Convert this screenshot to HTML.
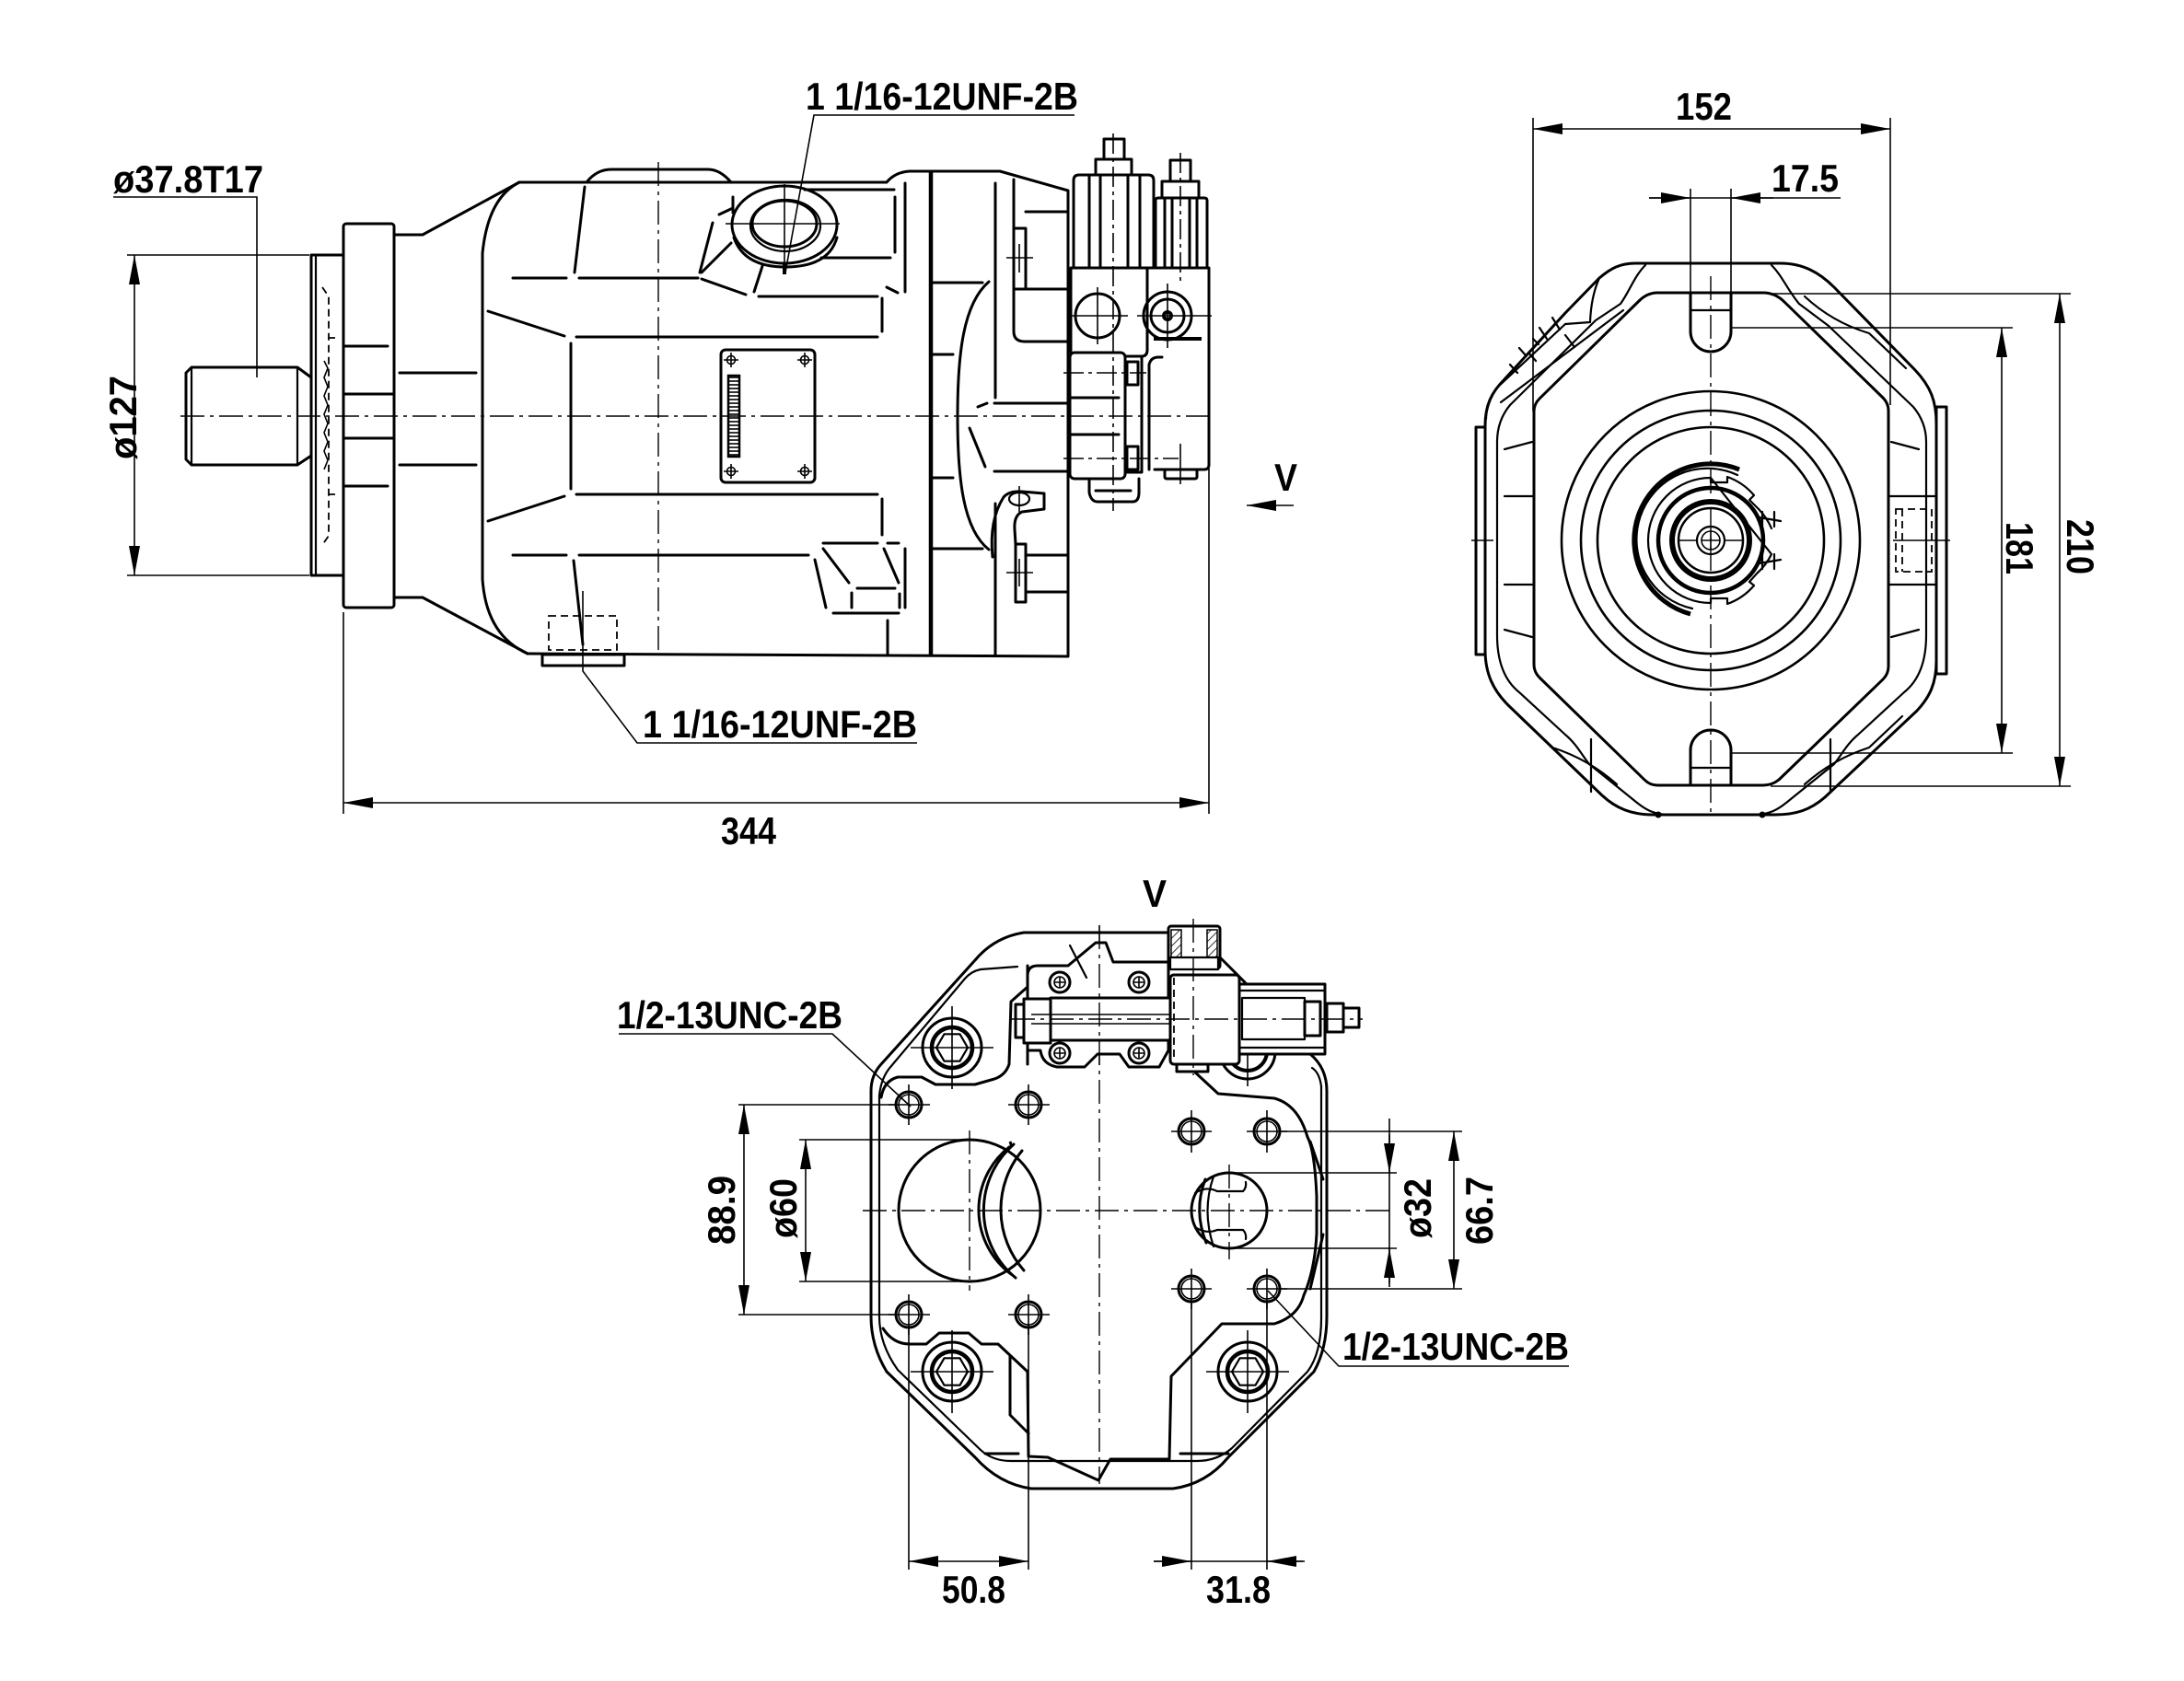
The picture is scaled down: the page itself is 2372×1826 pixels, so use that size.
<!DOCTYPE html>
<html><head><meta charset="utf-8"><style>
html,body{margin:0;padding:0;background:#fff}
svg{display:block}
.o{fill:none;stroke:#000;stroke-width:3;stroke-linejoin:round;stroke-linecap:round}
.m{fill:none;stroke:#000;stroke-width:2.2;stroke-linecap:round;stroke-linejoin:round}
.f{fill:none;stroke:#000;stroke-width:1.6}
.c{fill:none;stroke:#000;stroke-width:1.4;stroke-dasharray:26 6 4 6}
.h{fill:none;stroke:#000;stroke-width:1.8;stroke-dasharray:8 5}
.w{fill:#fff}
.k5{fill:none;stroke:#000;stroke-width:5}
text{font-family:"Liberation Sans",Arial,sans-serif;font-weight:700;font-size:42px;fill:#000}
</style></head><body>
<svg xmlns="http://www.w3.org/2000/svg" width="2372" height="1826" viewBox="0 0 2372 1826">
<defs>
<marker id="ar" viewBox="0 0 32 12" refX="32" refY="6" markerWidth="32" markerHeight="12" orient="auto-start-reverse" markerUnits="userSpaceOnUse"><path d="M0,0 L32,6 L0,12 Z" fill="#000"/></marker>
<pattern id="hs" width="8" height="4" patternUnits="userSpaceOnUse"><line x1="0" y1="2" x2="8" y2="2" stroke="#000" stroke-width="1.6"/></pattern>
<pattern id="hatch" width="6" height="6" patternUnits="userSpaceOnUse" patternTransform="rotate(45)"><line x1="0" y1="0" x2="0" y2="6" stroke="#000" stroke-width="1.6"/></pattern>
</defs>
<rect width="2372" height="1826" fill="#fff"/>

<!-- ================= SIDE VIEW ================= -->
<line class="c" x1="196" y1="452" x2="1320" y2="452"/>
<line class="c" x1="715" y1="176" x2="715" y2="712"/>

<!-- shaft -->
<path class="o" d="M208,399 L323,399 L338,410 L338,495 L323,505 L208,505 L202,499 L202,405 Z"/>
<line class="m" x1="208" y1="400" x2="208" y2="504"/>
<line class="m" x1="323" y1="400" x2="323" y2="504"/>
<!-- thin flange -->
<rect class="o" x="338" y="277" width="35" height="348"/>
<line class="m" x1="343" y1="279" x2="343" y2="623"/>
<path class="h" d="M350,312 L357,322 L357,582 L350,592"/>
<path class="h" d="M357,367 L364,367 M357,537 L364,537"/>
<path class="f" d="M352,392 L356,400 L352,410 L356,420 L352,430 L356,440 L352,450 L356,460 L352,470 L356,480 L352,490 L356,500 L352,510"/>
<!-- big flange -->
<rect class="o" x="373" y="243" width="55" height="417" rx="3"/>
<line class="o" x1="375" y1="376" x2="421" y2="376"/>
<line class="o" x1="375" y1="528" x2="421" y2="528"/>
<line class="o" x1="373" y1="428" x2="428" y2="428"/>
<line class="o" x1="373" y1="476" x2="428" y2="476"/>
<!-- neck -->
<path class="o" d="M428,255 L459,255 L564,198"/>
<path class="o" d="M428,649 L459,649 L573,710"/>
<line class="o" x1="434" y1="405" x2="517" y2="405"/>
<line class="o" x1="434" y1="505" x2="517" y2="505"/>
<!-- body -->
<path class="o" d="M564,198 Q530,215 524,275 L524,629 Q528,690 573,710"/>
<path class="o" d="M564,198 L963,198 Q972,187 988,186 L1086,186 L1160,207 L1160,713 L573,710"/>
<path class="o" d="M637,198 Q648,184 664,184 L769,184 Q782,184 794,198"/>
<line x1="1011" y1="186" x2="1011" y2="712" stroke="#000" stroke-width="4.5"/>
<!-- body interior -->
<g class="o">
<line x1="635" y1="203" x2="624" y2="296"/>
<line x1="557" y1="302" x2="615" y2="302"/><line x1="629" y1="302" x2="758" y2="302"/>
<line x1="626" y1="366" x2="953" y2="366"/>
<line x1="530" y1="338" x2="613" y2="365"/>
<line x1="620" y1="373" x2="620" y2="531"/>
<line x1="626" y1="537" x2="953" y2="537"/>
<line x1="530" y1="566" x2="613" y2="539"/>
<line x1="557" y1="603" x2="615" y2="603"/><line x1="629" y1="603" x2="878" y2="603"/>
<line x1="623" y1="609" x2="633" y2="700"/>
<line x1="774" y1="242" x2="760" y2="296"/>
<line x1="794" y1="264" x2="762" y2="296"/>
<line x1="762" y1="303" x2="810" y2="320"/>
<line x1="828" y1="289" x2="819" y2="317"/>
<line x1="824" y1="322" x2="953" y2="322"/>
<line x1="781" y1="233" x2="796" y2="226"/>
<line x1="796" y1="214" x2="796" y2="231"/>
<line x1="874" y1="206" x2="971" y2="206"/>
<line x1="892" y1="280" x2="967" y2="280"/>
<line x1="972" y1="214" x2="972" y2="274"/>
<line x1="983" y1="199" x2="983" y2="317"/>
<line x1="963" y1="312" x2="975" y2="318"/>
<line x1="958" y1="324" x2="958" y2="360"/>
<line x1="958" y1="542" x2="958" y2="581"/>
<line x1="894" y1="590" x2="953" y2="590"/><line x1="964" y1="590" x2="976" y2="590"/>
<line x1="894" y1="596" x2="922" y2="633"/>
<line x1="885" y1="608" x2="897" y2="660"/>
<line x1="960" y1="596" x2="976" y2="633"/>
<line x1="931" y1="639" x2="972" y2="639"/>
<line x1="905" y1="666" x2="976" y2="666"/>
<line x1="925" y1="644" x2="925" y2="660"/>
<line x1="977" y1="645" x2="977" y2="660"/>
<line x1="983" y1="596" x2="983" y2="660"/>
<line x1="964" y1="674" x2="964" y2="710"/>
</g>
<!-- top port -->
<ellipse class="o" cx="852" cy="244" rx="57" ry="42"/>
<path class="o" d="M797,258 Q808,290 853,290 Q900,290 909,258"/>
<ellipse class="o" cx="852" cy="243" rx="35" ry="25"/>
<ellipse class="m" cx="853" cy="245" rx="38" ry="28"/>
<line class="f" x1="788" y1="243" x2="912" y2="243"/>
<line class="f" x1="852" y1="200" x2="852" y2="296"/>
<line x1="852" y1="285" x2="852" y2="298" stroke="#000" stroke-width="4"/>
<!-- nameplate -->
<rect class="o" x="783" y="380" width="102" height="144" rx="5"/>
<rect x="791" y="408" width="12" height="88" fill="url(#hs)" stroke="#000" stroke-width="2.5"/>
<g class="f">
<circle cx="794" cy="391" r="4.5"/><circle cx="874" cy="391" r="4.5"/><circle cx="794" cy="512" r="4.5"/><circle cx="874" cy="512" r="4.5"/>
<path d="M786,391 H802 M794,383 V399 M866,391 H882 M874,383 V399 M786,512 H802 M794,504 V520 M866,512 H882 M874,504 V520"/>
</g>
<!-- bottom port -->
<rect class="o" x="589" y="711" width="89" height="12"/>
<rect class="h" x="596" y="669" width="74" height="37"/>
<!-- end section -->
<path class="o" d="M1074,306 C1046,330 1040,385 1040,452 C1040,520 1046,575 1074,597"/>
<g class="o">
<line x1="1011" y1="307" x2="1067" y2="307"/>
<line x1="1011" y1="385" x2="1035" y2="385"/>
<line x1="1011" y1="519" x2="1035" y2="519"/>
<line x1="1011" y1="596" x2="1067" y2="596"/>
<line x1="1081" y1="199" x2="1081" y2="432"/>
<line x1="1081" y1="547" x2="1081" y2="712"/>
<path d="M1101,195 L1101,360 Q1101,371 1113,371 L1160,371"/>
<rect x="1101" y="248" width="13" height="66"/>
<line x1="1114" y1="230" x2="1160" y2="230"/>
<line x1="1114" y1="314" x2="1160" y2="314"/>
<line x1="1080" y1="438" x2="1160" y2="438"/>
<line x1="1080" y1="512" x2="1160" y2="512"/>
<line x1="1062" y1="442" x2="1072" y2="438"/>
<line x1="1053" y1="465" x2="1070" y2="507"/>
<path d="M1078,605 Q1074,565 1090,540 Q1096,533 1110,534 L1134,536 L1134,553 L1110,556 Q1101,560 1102,575 L1103,591"/>
<rect x="1103" y="591" width="11" height="63"/>
<line x1="1114" y1="603" x2="1160" y2="603"/>
<line x1="1114" y1="643" x2="1160" y2="643"/>
</g>
<ellipse class="m" cx="1107" cy="542" rx="11" ry="7"/>
<path class="f" d="M1093,280 H1122 M1107,265 V296 M1093,622 H1122 M1107,607 V637 M1107,528 V556"/>
<!-- valve block -->
<g class="o">
<path d="M1166,291 L1166,196 Q1166,190 1172,190 L1247,190 Q1253,190 1253,196 L1253,291"/>
<line x1="1183" y1="190" x2="1183" y2="290"/><line x1="1195" y1="190" x2="1195" y2="290"/>
<line x1="1225" y1="190" x2="1225" y2="290"/><line x1="1238" y1="190" x2="1238" y2="290"/>
<rect x="1190" y="173" width="39" height="17"/>
<rect x="1199" y="151" width="22" height="22"/>
<path d="M1255,291 L1255,218 Q1255,215 1258,215 L1308,215 Q1311,215 1311,218 L1311,291"/>
<line x1="1265" y1="215" x2="1265" y2="290"/><line x1="1273" y1="215" x2="1273" y2="290"/>
<line x1="1292" y1="215" x2="1292" y2="290"/><line x1="1300" y1="215" x2="1300" y2="290"/>
<rect x="1262" y="197" width="40" height="18"/>
<rect x="1271" y="174" width="22" height="23"/>
<path d="M1163,383 L1163,291 L1313,291 L1313,505 Q1313,510 1308,510 L1254,510"/>
<path d="M1246,291 L1246,380 Q1246,387 1240,387"/>
<rect x="1162" y="383" width="60" height="137" rx="5"/>
<rect x="1222" y="387" width="18" height="126"/>
<rect x="1224" y="393" width="12" height="25"/>
<rect x="1224" y="485" width="12" height="25"/>
<path d="M1248,510 L1248,396 Q1250,388 1258,388 L1262,388"/>
<rect x="1265" y="510" width="35" height="10" rx="2"/>
<path d="M1183,520 L1183,535 Q1185,545 1192,545 L1230,545 Q1237,545 1237,535 L1237,520"/>
<line x1="1190" y1="533" x2="1228" y2="533"/>
<line x1="1163" y1="432" x2="1215" y2="432"/>
<line x1="1163" y1="472" x2="1215" y2="472"/>
<circle cx="1192" cy="343" r="24"/>
<circle cx="1268" cy="343" r="26"/>
<circle cx="1268" cy="343" r="18"/>
</g>
<line x1="1253" y1="368" x2="1305" y2="368" stroke="#000" stroke-width="4"/>
<circle cx="1268" cy="343" r="6" fill="#000"/>
<circle cx="1268" cy="343" r="2" fill="#fff"/>
<g class="f">
<line x1="1209" y1="145" x2="1209" y2="555" stroke-dasharray="22 5 4 5"/>
<line x1="1282" y1="166" x2="1282" y2="310" stroke-dasharray="22 5 4 5"/>
<line x1="1282" y1="482" x2="1282" y2="526"/>
<path d="M1160,343 H1225 M1192,312 V374 M1235,343 H1316 M1268,308 V378"/>
<line x1="1155" y1="405" x2="1245" y2="405" stroke-dasharray="22 5 4 5"/>
<line x1="1155" y1="498" x2="1280" y2="498" stroke-dasharray="22 5 4 5"/>
</g>

<!-- side view dims -->
<g class="f">
<line x1="138" y1="277" x2="336" y2="277"/>
<line x1="138" y1="625" x2="336" y2="625"/>
<line x1="146" y1="277" x2="146" y2="625" marker-start="url(#ar)" marker-end="url(#ar)"/>
<path d="M123,214 L279,214 L279,410"/>
<path d="M1167,125 L884,125 L853,296"/>
<path d="M996,807 L692,807 L633,729 L633,642"/>
<line x1="373" y1="665" x2="373" y2="884"/>
<line x1="1313" y1="509" x2="1313" y2="884"/>
<line x1="373" y1="872" x2="1313" y2="872" marker-start="url(#ar)" marker-end="url(#ar)"/>
<line x1="1405" y1="549" x2="1354" y2="549" marker-end="url(#ar)"/>
</g>
<text x="123" y="209" textLength="163" lengthAdjust="spacingAndGlyphs">ø37.8T17</text>
<text transform="translate(148,499) rotate(-90)" textLength="91" lengthAdjust="spacingAndGlyphs">ø127</text>
<text x="875" y="119" textLength="296" lengthAdjust="spacingAndGlyphs">1 1/16-12UNF-2B</text>
<text x="698" y="801" textLength="298" lengthAdjust="spacingAndGlyphs">1 1/16-12UNF-2B</text>
<text x="783" y="917" textLength="60" lengthAdjust="spacingAndGlyphs">344</text>
<text x="1384" y="533" textLength="25" lengthAdjust="spacingAndGlyphs">V</text>

<!-- ================= FRONT VIEW ================= -->
<path class="o" d="M1776,286 L1934,286 C1958,286 1976,296 1992,312 L2080,402 C2097,420 2103,436 2103,460 L2103,718 C2103,742 2096,757 2082,772 L1982,866 C1966,880 1950,885 1928,885 L1795,885 C1772,885 1755,878 1740,864 L1638,766 C1622,750 1613,732 1613,706 L1613,462 C1613,440 1620,426 1634,412 L1700,340 L1737,302 C1750,291 1760,286 1776,286 Z"/>
<path class="m" d="M1787,288 C1775,300 1770,316 1760,330 L1733,348 L1640,440 C1630,452 1626,466 1626,480 L1626,690 C1626,720 1635,740 1650,752 L1700,798 C1712,808 1718,820 1726,830 L1778,872 C1788,880 1796,884 1810,885"/>
<path class="m" d="M1924,288 C1936,300 1942,316 1954,330 L1986,354 L2078,442 C2088,454 2092,466 2092,480 L2092,690 C2092,720 2083,740 2068,752 L2018,798 C2006,808 2000,820 1992,830 L1940,872 C1930,880 1922,884 1908,885"/>
<path class="o" d="M1800,318 L1915,318 C1925,318 1932,322 1938,328 L2045,432 C2049,436 2051,440 2051,446 L2051,724 C2051,730 2049,734 2045,738 L1932,847 C1927,851 1922,853 1915,853 L1800,853 C1794,853 1790,851 1786,847 L1672,736 C1668,732 1666,728 1666,722 L1666,447 C1666,441 1668,437 1672,433 L1780,327 C1786,321 1792,318 1800,318 Z"/>
<g class="m">
<path d="M1737,302 Q1728,322 1727,350 L1700,352"/>
<line x1="1763" y1="337" x2="1630" y2="437"/>
<line x1="1700" y1="352" x2="1625" y2="422"/>
<path d="M1625,422 Q1614,440 1614,455"/>
<path d="M1672,356 L1680,368 M1686,345 L1694,358 M1650,378 L1657,386 M1665,368 L1671,374 M1700,364 L1710,377 M1640,396 L1648,405 M1660,383 L1668,392"/>
<path d="M1960,322 Q1990,350 2030,362 L2070,400"/>
<path d="M1756,852 Q1726,825 1686,812 L1650,778"/>
<path d="M1960,852 Q1990,825 2030,812 L2066,778"/>
<path d="M1728,803 L1728,860"/>
<path d="M1988,803 L1988,860"/>
<line x1="1634" y1="488" x2="1664" y2="480"/>
<line x1="1634" y1="539" x2="1664" y2="539"/>
<line x1="1634" y1="635" x2="1664" y2="635"/>
<line x1="1634" y1="684" x2="1664" y2="692"/>
<line x1="2054" y1="480" x2="2084" y2="488"/>
<line x1="2054" y1="692" x2="2084" y2="684"/>
<line x1="2051" y1="539" x2="2103" y2="539"/>
<line x1="2051" y1="635" x2="2103" y2="635"/>
</g>
<rect class="o" x="2103" y="442" width="11" height="290"/>
<rect class="o" x="1603" y="464" width="10" height="247"/>
<rect class="h" x="2059" y="553" width="39" height="68"/>
<line class="h" x1="2066" y1="553" x2="2066" y2="621"/>
<line class="h" x1="2092" y1="553" x2="2092" y2="621"/>
<!-- slots -->
<path class="o" d="M1836,318 L1836,360 A22,22 0 0 0 1880,360 L1880,318"/>
<line class="m" x1="1836" y1="337" x2="1880" y2="337"/>
<path class="o" d="M1836,853 L1836,815 A22,22 0 0 1 1880,815 L1880,853"/>
<line class="m" x1="1836" y1="834" x2="1880" y2="834"/>
<circle cx="1801" cy="885" r="3.5"/><circle cx="1914" cy="885" r="3.5"/>
<!-- center -->
<line class="c" x1="1858" y1="300" x2="1858" y2="885"/>
<path class="f" d="M1598,587 H1622 M2056,587 H2118"/>
<g class="m" style="stroke-width:2.6">
<circle cx="1858" cy="587" r="162"/>
<circle cx="1858" cy="587" r="141"/>
<circle cx="1858" cy="587" r="123"/>
</g>
<path class="k5" d="M1889,510 A83,83 0 1 0 1836,667"/>
<path class="m" d="M1887,516 A77,77 0 1 0 1838,661"/>
<path class="m" d="M1858,519 L1858,524 L1876,524 L1876,518 A68,68 0 0 1 1905,538 L1900,543 L1910,553 A68,68 0 0 1 1924,574 M1924,602 A68,68 0 0 1 1908,623 L1900,632 L1905,636 A68,68 0 0 1 1876,656 L1876,650 L1858,650 L1858,655 A68,68 0 0 1 1790,587 A68,68 0 0 1 1858,519 Z"/>
<circle cx="1858" cy="587" r="57" fill="none" stroke="#000" stroke-width="4.5"/>
<circle cx="1858" cy="587" r="42" fill="none" stroke="#000" stroke-width="6"/>
<circle cx="1858" cy="587" r="35" fill="none" stroke="#000" stroke-width="2.5"/>
<circle class="m" cx="1858" cy="587" r="15"/>
<circle class="f" cx="1858" cy="587" r="10"/>
<path class="f" d="M1848,587 H1868 M1858,577 V597 M1822,587 H1842 M1874,587 H1894"/>
<path class="m" d="M1914,556 L1914,572 M1927,556 L1927,572 M1914,602 L1914,618 M1927,602 L1927,618 M1910,562 L1934,566 M1910,612 L1934,608"/>
<!-- front dims -->
<g class="f">
<line x1="1665" y1="128" x2="1665" y2="447"/>
<line x1="2053" y1="128" x2="2053" y2="440"/>
<line x1="1665" y1="140" x2="2053" y2="140" marker-start="url(#ar)" marker-end="url(#ar)"/>
<line x1="1836" y1="205" x2="1836" y2="360"/>
<line x1="1880" y1="205" x2="1880" y2="360"/>
<line x1="1791" y1="215" x2="1999" y2="215"/>
<line x1="1791" y1="215" x2="1836" y2="215" marker-end="url(#ar)"/>
<line x1="1926" y1="215" x2="1880" y2="215" marker-end="url(#ar)"/>
<line x1="1880" y1="356" x2="2186" y2="356"/>
<line x1="1880" y1="818" x2="2186" y2="818"/>
<line x1="2174" y1="356" x2="2174" y2="818" marker-start="url(#ar)" marker-end="url(#ar)"/>
<line x1="1921" y1="319" x2="2249" y2="319"/>
<line x1="1923" y1="854" x2="2249" y2="854"/>
<line x1="2237" y1="319" x2="2237" y2="854" marker-start="url(#ar)" marker-end="url(#ar)"/>
</g>
<text x="1820" y="130" textLength="61" lengthAdjust="spacingAndGlyphs">152</text>
<text x="1924" y="208" textLength="73" lengthAdjust="spacingAndGlyphs">17.5</text>
<text transform="translate(2179,567) rotate(90)" textLength="57" lengthAdjust="spacingAndGlyphs">181</text>
<text transform="translate(2245,564) rotate(90)" textLength="60" lengthAdjust="spacingAndGlyphs">210</text>

<!-- ================= BOTTOM VIEW ================= -->
<path class="o" d="M1112,1013 L1268,1013 L1325,1040 L1351,1066 L1423,1145 Q1441,1160 1441,1185 L1441,1430 Q1441,1465 1427,1490 L1334,1583 Q1310,1612 1274,1617 L1120,1617 Q1085,1612 1059,1583 L963,1490 Q946,1462 946,1430 L946,1185 Q946,1168 957,1156 L1059,1043 Q1080,1018 1112,1013 Z"/>
<path class="m" d="M1105,1050 L1065,1053 Q1055,1055 1048,1063 L968,1158 Q957,1170 955,1190 L955,1430 Q955,1460 975,1488 L1065,1575 Q1078,1587 1098,1587 L1300,1587 Q1322,1587 1338,1573 L1420,1490 Q1435,1470 1435,1432 L1435,1180 Q1433,1165 1425,1160"/>
<path class="o" d="M1116,1049 L1116,1072 L1098,1088 L1096,1156 Q1092,1168 1080,1172 L1059,1178 L1016,1178 L1001,1170 L975,1170 Q960,1174 957,1192"/>
<path class="o" d="M959,1443 Q970,1460 988,1460 L1006,1460 L1020,1448 L1052,1448 L1066,1460 L1084,1460 L1116,1490 L1117,1582 L1138,1583 L1193,1608 L1206,1585 L1270,1585 L1272,1495 L1327,1438 L1384,1438 Q1410,1430 1416,1407 Q1428,1380 1430,1340 L1430,1300 Q1428,1250 1420,1235 Q1410,1200 1384,1193 L1323,1188 L1296,1163"/>
<path class="o" d="M1097,1473 L1097,1537 L1117,1557"/>
<line class="o" x1="1070" y1="1579" x2="1106" y2="1579"/>
<line class="o" x1="1282" y1="1579" x2="1334" y2="1579"/>
<path class="o" d="M1437,1281 L1423,1240 M1437,1341 L1423,1400"/>
<!-- centerlines -->
<line class="c" x1="1194" y1="1005" x2="1194" y2="1612"/>
<line class="c" x1="937" y1="1315" x2="1510" y2="1315"/>
<line class="c" x1="1053" y1="1228" x2="1053" y2="1402"/>
<line class="c" x1="1335" y1="1265" x2="1335" y2="1368"/>
<!-- ports -->
<circle class="o" cx="1053" cy="1315" r="77"/>
<path class="o" d="M1096,1246 A87,87 0 0 0 1098,1384"/>
<path class="o" d="M1101,1243 A95,95 0 0 0 1103,1388"/>
<path class="o" d="M1097,1241 A74,74 0 0 1 1099,1389" style="display:none"/>
<path class="o" d="M1110,1250 A100,100 0 0 0 1112,1380"/>
<line x1="1097" y1="1240" x2="1099" y2="1246" stroke="#000" stroke-width="3"/>
<circle class="o" cx="1335" cy="1315" r="41"/>
<path class="o" d="M1309,1281 Q1296,1315 1310,1350"/>
<path class="m" d="M1318,1278 Q1305,1315 1318,1354"/>
<path class="m" d="M1298,1296 Q1310,1288 1322,1294 L1350,1294 Q1354,1290 1353,1284 M1298,1333 Q1310,1341 1322,1336 L1350,1336 Q1354,1340 1353,1346"/>
<!-- holes -->
<g class="o">
<circle cx="987" cy="1200" r="14"/><circle cx="1117" cy="1200" r="14"/>
<circle cx="987" cy="1428" r="14"/><circle cx="1117" cy="1428" r="14"/>
<circle cx="1294" cy="1229" r="14"/><circle cx="1376" cy="1229" r="14"/>
<circle cx="1294" cy="1400" r="14"/><circle cx="1376" cy="1400" r="14"/>
</g>
<g class="f">
<circle cx="987" cy="1200" r="11"/><circle cx="1117" cy="1200" r="11"/>
<circle cx="987" cy="1428" r="11"/><circle cx="1117" cy="1428" r="11"/>
<circle cx="1294" cy="1229" r="11"/><circle cx="1376" cy="1229" r="11"/>
<circle cx="1294" cy="1400" r="11"/><circle cx="1376" cy="1400" r="11"/>
<path d="M965,1200 H1010 M987,1178 V1222 M1095,1200 H1140 M1117,1178 V1222 M965,1428 H1010 M987,1406 V1450 M1095,1428 H1140 M1117,1406 V1450"/>
<path d="M1272,1229 H1316 M1294,1206 V1252 M1354,1229 H1398 M1376,1206 V1252 M1272,1400 H1316 M1294,1378 V1422 M1354,1400 H1398 M1376,1378 V1422"/>
</g>
<!-- bolts -->
<g>
<circle class="o" cx="1034" cy="1138" r="32"/>
<circle cx="1034" cy="1138" r="22" fill="none" stroke="#000" stroke-width="4.5"/>
<polygon class="m" points="1051,1138 1042.5,1152.7 1025.5,1152.7 1017,1138 1025.5,1123.3 1042.5,1123.3"/>
<path class="f" d="M989,1138 H1079 M1034,1093 V1183"/>
<circle class="o" cx="1034" cy="1490" r="32"/>
<circle cx="1034" cy="1490" r="22" fill="none" stroke="#000" stroke-width="4.5"/>
<polygon class="m" points="1051,1490 1042.5,1504.7 1025.5,1504.7 1017,1490 1025.5,1475.3 1042.5,1475.3"/>
<path class="f" d="M989,1490 H1079 M1034,1445 V1535"/>
<circle class="o" cx="1355" cy="1490" r="32"/>
<circle cx="1355" cy="1490" r="22" fill="none" stroke="#000" stroke-width="4.5"/>
<polygon class="m" points="1372,1490 1363.5,1504.7 1346.5,1504.7 1338,1490 1346.5,1475.3 1363.5,1475.3"/>
<path class="f" d="M1310,1490 H1400 M1355,1445 V1535"/>
<circle class="o" cx="1355" cy="1142" r="30"/>
<circle cx="1355" cy="1142" r="21" fill="none" stroke="#000" stroke-width="4"/>
<path class="f" d="M1355,1100 V1180"/>
</g>
<!-- valve assembly (bottom view) -->
<path class="o w" d="M1116,1156 L1116,1060 Q1116,1049 1127,1049 L1160,1049 L1190,1024 L1201,1024 L1209,1045 L1269,1045 L1269,1141 L1259,1159 L1226,1159 L1216,1145 L1192,1145 L1178,1159 L1148,1159 Q1132,1156 1130,1141 L1116,1141 Z"/>
<line class="m" x1="1162" y1="1027" x2="1180" y2="1062"/>
<rect class="o w" x="1112" y="1085" width="29" height="48"/>
<rect class="o w" x="1103" y="1091" width="9" height="36"/>
<rect class="o w" x="1141" y="1084" width="130" height="46"/>
<line class="f" x1="1120" y1="1102" x2="1271" y2="1102"/>
<line class="f" x1="1120" y1="1112" x2="1271" y2="1112"/>
<g>
<circle class="o w" cx="1151" cy="1067" r="11"/><circle class="o w" cx="1237" cy="1067" r="11"/>
<circle class="o w" cx="1151" cy="1144" r="11"/><circle class="o w" cx="1237" cy="1144" r="11"/>
<g class="f"><circle cx="1151" cy="1067" r="6"/><circle cx="1237" cy="1067" r="6"/><circle cx="1151" cy="1144" r="6"/><circle cx="1237" cy="1144" r="6"/>
<path d="M1145,1067 H1157 M1151,1061 V1073 M1231,1067 H1243 M1237,1061 V1073 M1145,1144 H1157 M1151,1138 V1150 M1231,1144 H1243 M1237,1138 V1150"/></g>
</g>
<rect class="o w" x="1271" y="1059" width="75" height="97" rx="4"/>
<line class="h" x1="1275" y1="1062" x2="1275" y2="1152"/>
<rect class="o w" x="1278" y="1156" width="34" height="8"/>
<rect class="o w" x="1346" y="1069" width="93" height="76"/>
<rect class="m" x="1349" y="1084" width="68" height="45"/>
<rect class="o w" x="1417" y="1088" width="17" height="37"/>
<rect class="o w" x="1441" y="1090" width="18" height="31"/>
<rect class="o w" x="1459" y="1095" width="17" height="21"/>
<line class="m" x1="1346" y1="1076" x2="1439" y2="1076"/>
<line class="m" x1="1346" y1="1138" x2="1439" y2="1138"/>
<rect class="o w" x="1269" y="1006" width="56" height="46" rx="3"/>
<rect x="1272" y="1010" width="11" height="30" fill="url(#hatch)" stroke="#000" stroke-width="1.5"/>
<rect x="1311" y="1010" width="11" height="30" fill="url(#hatch)" stroke="#000" stroke-width="1.5"/>
<rect class="m w" x="1271" y="1040" width="52" height="13"/>
<line class="c" x1="1296" y1="998" x2="1296" y2="1168"/>
<line class="c" x1="1098" y1="1107" x2="1480" y2="1107"/>
<line class="c" x1="1194" y1="1005" x2="1194" y2="1160"/>
<!-- bottom dims -->
<g class="f">
<line x1="987" y1="1440" x2="987" y2="1705"/>
<line x1="1117" y1="1440" x2="1117" y2="1705"/>
<line x1="1294" y1="1412" x2="1294" y2="1705"/>
<line x1="1376" y1="1412" x2="1376" y2="1705"/>
<line x1="987" y1="1696" x2="1117" y2="1696" marker-start="url(#ar)" marker-end="url(#ar)"/>
<line x1="1253" y1="1696" x2="1415" y2="1696"/>
<line x1="1253" y1="1696" x2="1294" y2="1696" marker-end="url(#ar)"/>
<line x1="1417" y1="1696" x2="1376" y2="1696" marker-end="url(#ar)"/>
<line x1="802" y1="1200" x2="973" y2="1200"/>
<line x1="802" y1="1428" x2="973" y2="1428"/>
<line x1="808" y1="1200" x2="808" y2="1428" marker-start="url(#ar)" marker-end="url(#ar)"/>
<line x1="868" y1="1238" x2="1053" y2="1238"/>
<line x1="868" y1="1392" x2="1053" y2="1392"/>
<line x1="875" y1="1238" x2="875" y2="1392" marker-start="url(#ar)" marker-end="url(#ar)"/>
<line x1="1335" y1="1274" x2="1517" y2="1274"/>
<line x1="1335" y1="1356" x2="1517" y2="1356"/>
<line x1="1509" y1="1215" x2="1509" y2="1394"/>
<line x1="1509" y1="1232" x2="1509" y2="1274" marker-end="url(#ar)"/>
<line x1="1509" y1="1398" x2="1509" y2="1356" marker-end="url(#ar)"/>
<line x1="1390" y1="1229" x2="1588" y2="1229"/>
<line x1="1390" y1="1400" x2="1588" y2="1400"/>
<line x1="1579" y1="1229" x2="1579" y2="1400" marker-start="url(#ar)" marker-end="url(#ar)"/>
<path d="M672,1123 L904,1123 L989,1202"/>
<path d="M1704,1484 L1454,1484 L1377,1402"/>
</g>
<text x="1241" y="985" textLength="26" lengthAdjust="spacingAndGlyphs">V</text>
<text x="670" y="1117" textLength="245" lengthAdjust="spacingAndGlyphs">1/2-13UNC-2B</text>
<text x="1458" y="1477" textLength="246" lengthAdjust="spacingAndGlyphs">1/2-13UNC-2B</text>
<text transform="translate(798,1352) rotate(-90)" textLength="75" lengthAdjust="spacingAndGlyphs">88.9</text>
<text transform="translate(865,1345) rotate(-90)" textLength="65" lengthAdjust="spacingAndGlyphs">ø60</text>
<text transform="translate(1554,1345) rotate(-90)" textLength="65" lengthAdjust="spacingAndGlyphs">ø32</text>
<text transform="translate(1621,1352) rotate(-90)" textLength="74" lengthAdjust="spacingAndGlyphs">66.7</text>
<text x="1023" y="1741" textLength="69" lengthAdjust="spacingAndGlyphs">50.8</text>
<text x="1310" y="1741" textLength="70" lengthAdjust="spacingAndGlyphs">31.8</text>
</svg>
</body></html>
